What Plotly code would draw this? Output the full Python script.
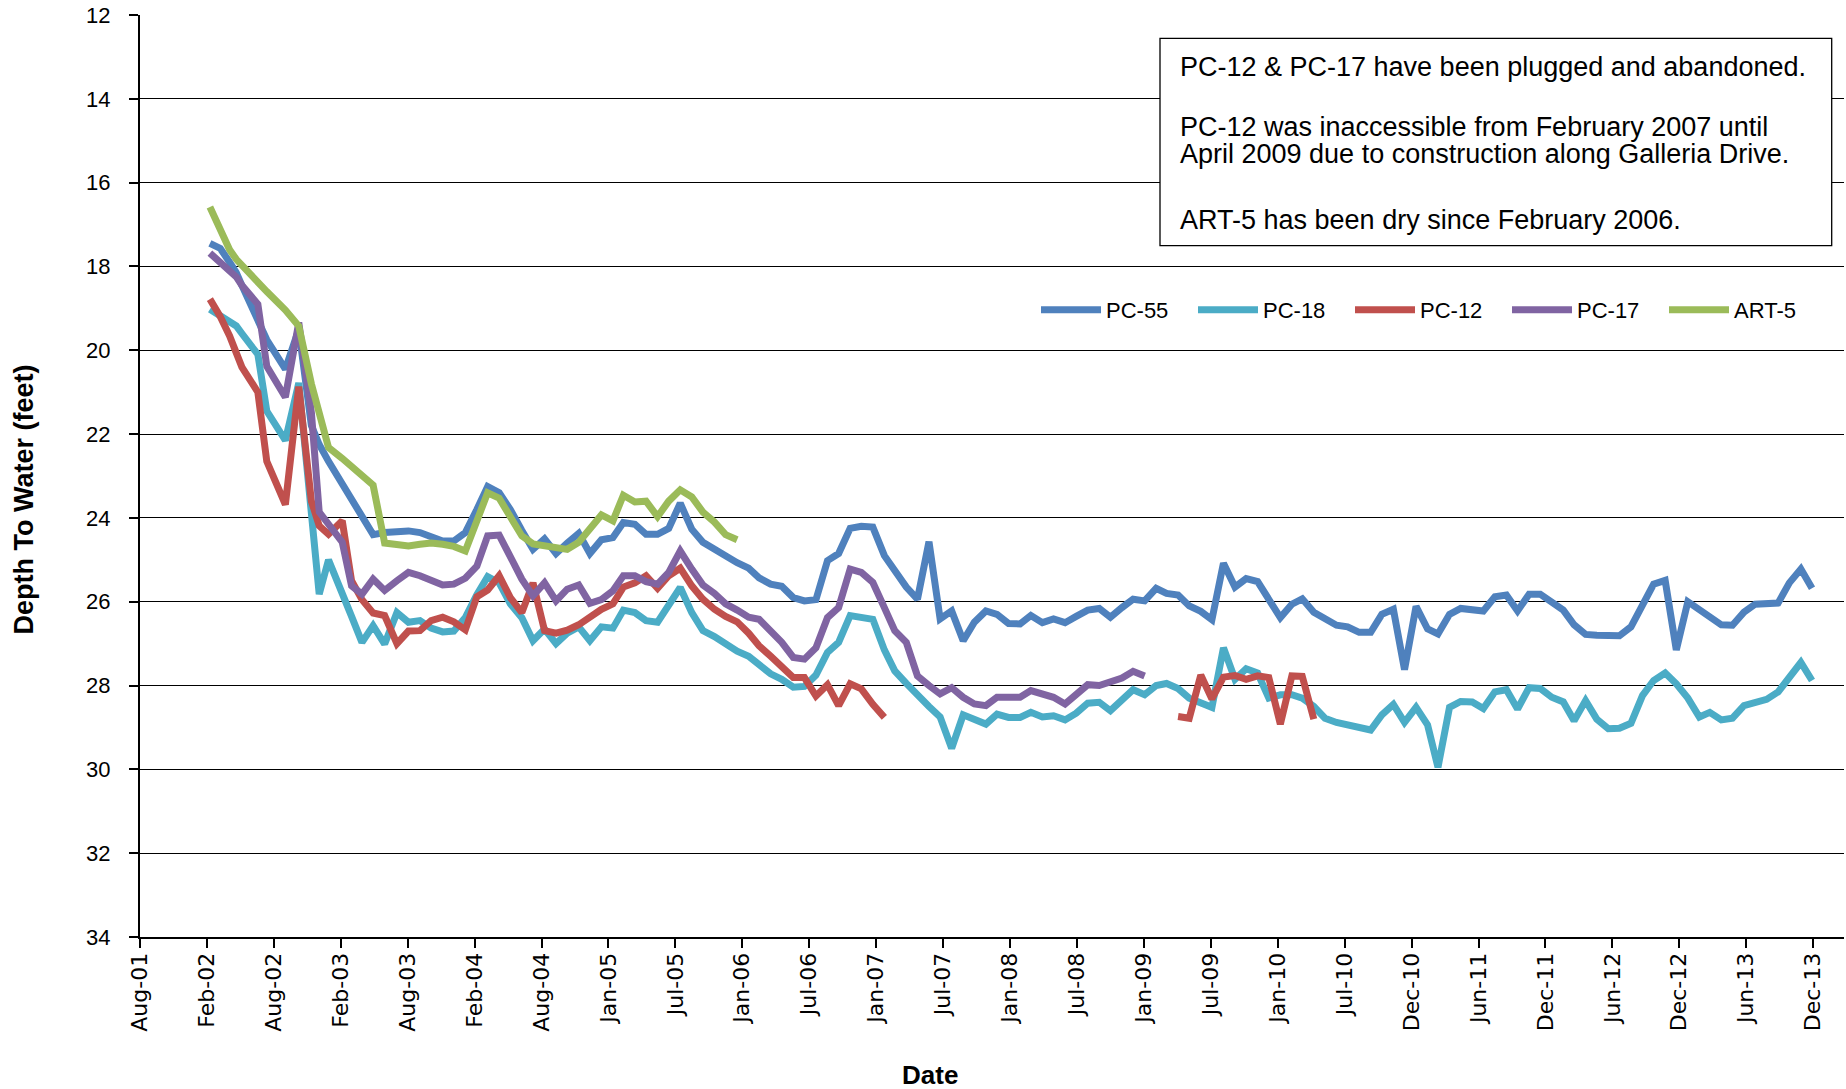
import pandas as pd
import plotly.graph_objects as go

# ---------------- data ----------------
EARLY_DATES = ["2002-02-22", "2002-03-22", "2002-04-16", "2002-05-04", "2002-05-19",
               "2002-07-01", "2002-07-25", "2002-09-13", "2002-10-19", "2002-11-22",
               "2002-12-13", "2003-01-07", "2003-02-13", "2003-03-10", "2003-04-07",
               "2003-05-07", "2003-06-07"]
MONTHLY_START = "2003-07-10"
MONTHLY_END = "2013-12-10"

N = None

PC55_EARLY = [17.45, 17.57, 17.9, 18.15, 18.45, 19.3, 19.75, 20.45, 19.5, 21.8,
              22.25, 22.65, 23.2, 23.6, 24.0, 24.4, 24.35]
PC55_MONTHLY = [
    24.33, 24.31, 24.35, 24.45, 24.55, 24.55,                                      # 2003 Jul-Dec
    24.35, 23.8, 23.25, 23.4, 23.8, 24.3, 24.75, 24.5, 24.85, 24.6, 24.37, 24.85,  # 2004
    24.52, 24.47, 24.11, 24.15, 24.39, 24.39, 24.25, 23.65, 24.27, 24.58, 24.75, 24.9,  # 2005
    25.07, 25.2, 25.43, 25.58, 25.63, 25.9, 25.98, 25.95, 25.02, 24.85, 24.25, 24.2,  # 2006
    24.22, 24.9, 25.28, 25.65, 25.94, 24.57, 26.41, 26.22, 26.93, 26.49, 26.22, 26.3,  # 2007
    26.52, 26.53, 26.33, 26.5, 26.41, 26.5, 26.35, 26.2, 26.16, 26.37, 26.14, 25.94,  # 2008
    25.98, 25.68, 25.8, 25.84, 26.1, 26.23, 26.43, 25.08, 25.65, 25.45, 25.52, 25.94,  # 2009
    26.38, 26.06, 25.93, 26.25, 26.42, 26.56, 26.6, 26.73, 26.73, 26.3, 26.18, 27.62,  # 2010
    26.11, 26.65, 26.77, 26.3, 26.16, 26.18, 26.22, 25.88, 25.84, 26.22, 25.82, 25.82,  # 2011
    26.0, 26.2, 26.55, 26.78, 26.8, 26.8, 26.81, 26.6, 26.1, 25.58, 25.49, 27.15,  # 2012
    26.0, 26.2, 26.36, 26.55, 26.56, 26.25, 26.06, 26.04, 26.03, 25.55, 25.22, 25.68,  # 2013
]

PC18_EARLY = [19.02, 19.18, 19.3, 19.42, 19.6, 20.1, 21.45, 22.15, 20.78, 23.97,
              25.82, 25.0, 25.76, 26.35, 26.97, 26.57, 27.01]
PC18_MONTHLY = [
    26.26, 26.49, 26.45, 26.63, 26.72, 26.7,
    26.38, 25.83, 25.4, 25.55, 26.05, 26.38, 26.93, 26.65, 27.0, 26.75, 26.6, 26.93,
    26.6, 26.63, 26.2, 26.26, 26.45, 26.49, 26.1, 25.66, 26.26, 26.69, 26.83, 27.0,
    27.18, 27.3, 27.5, 27.72, 27.85, 28.04, 28.02, 27.75, 27.21, 26.97, 26.33, 26.38,
    26.42, 27.15, 27.65, 27.95, 28.25, 28.5, 28.75, 29.5, 28.7, 28.8, 28.92, 28.68,
    28.76, 28.76, 28.64, 28.75, 28.72, 28.82, 28.66, 28.42, 28.4, 28.6, 28.35, 28.1,
    28.22, 28.0, 27.95, 28.07, 28.3, 28.42, 28.52, 27.1, 27.85, 27.6, 27.7, 28.3,
    28.22, 28.22, 28.3, 28.5, 28.78, 28.88, 28.93, 28.98, 29.06, 28.7, 28.45, 28.88,
    28.52, 28.94, 29.95, 28.52, 28.38, 28.39, 28.55, 28.15, 28.1, 28.56, 28.05, 28.07,
    28.28, 28.39, 28.84, 28.36, 28.8, 29.03, 29.02, 28.9, 28.24, 27.88, 27.7, 27.96,
    28.3, 28.75, 28.64, 28.82, 28.78, 28.48, 28.42, 28.33, 28.15, 27.8, 27.45, 27.88,
]

PC12_EARLY = [18.78, 19.2, 19.66, 20.05, 20.4, 21.0, 22.65, 23.68, 20.87, 23.6,
              24.19, 24.39, 24.07, 25.5, 25.95, 26.27, 26.33]
PC12_MONTHLY = [
    27.0, 26.7, 26.69, 26.45, 26.37, 26.48,
    26.67, 25.88, 25.72, 25.38, 25.9, 26.26, 25.55, 26.69, 26.75, 26.68, 26.55, 26.35,
    26.18, 26.05, 25.65, 25.55, 25.38, 25.68, 25.38, 25.2, 25.62, 25.94, 26.18, 26.35,
    26.48, 26.75, 27.05, 27.3, 27.53, 27.81, 27.81, 28.25, 27.98, 28.48, 27.96, 28.08,
    28.45, 28.76, N, N, N, N, N, N, N, N, N, N,
    N, N, N, N, N, N, N, N, N, N, N, N,
    N, N, N, 28.74, 28.78, 27.75, 28.32, 27.8, 27.76, 27.85, 27.77, 27.81,
    28.92, 27.77, 27.78, 28.8, N, N, N, N, N, N, N, N,
    N, N, N, N, N, N, N, N, N, N, N, N,
    N, N, N, N, N, N, N, N, N, N, N, N,
    N, N, N, N, N, N, N, N, N, N, N, N,
]

PC17_EARLY = [17.68, 17.9, 18.07, 18.25, 18.45, 18.9, 20.38, 21.12, 19.34, 21.49,
              23.86, 24.13, 24.58, 25.62, 25.82, 25.46, 25.73]
PC17_MONTHLY = [
    25.5, 25.3, 25.38, 25.5, 25.6, 25.58,
    25.44, 25.15, 24.43, 24.41, 24.95, 25.46, 25.86, 25.55, 25.98, 25.7, 25.6, 26.04,
    25.95, 25.74, 25.38, 25.38, 25.52, 25.58, 25.3, 24.79, 25.22, 25.6, 25.8, 26.05,
    26.2, 26.37, 26.42, 26.7, 26.97, 27.33, 27.37, 27.1, 26.38, 26.14, 25.22, 25.3,
    25.54, 26.14, 26.69, 26.97, 27.77, 28.0, 28.2, 28.05, 28.28, 28.44, 28.48, 28.28,
    28.28, 28.28, 28.12, 28.22, 28.28, 28.44, 28.2, 27.98, 28.0, 27.92, 27.82, 27.66,
    27.77, N, N, N, N, N, N, N, N, N, N, N,
    N, N, N, N, N, N, N, N, N, N, N, N,
    N, N, N, N, N, N, N, N, N, N, N, N,
    N, N, N, N, N, N, N, N, N, N, N, N,
    N, N, N, N, N, N, N, N, N, N, N, N,
]

ART5_EARLY = [16.58, 17.11, 17.6, 17.83, 17.98, 18.37, 18.6, 19.04, 19.42, 20.8,
              21.54, 22.32, 22.58, 22.78, 22.99, 23.22, 24.6]
ART5_MONTHLY = [
    24.62, 24.67, 24.63, 24.6, 24.63, 24.68,
    24.79, 24.1, 23.4, 23.53, 24.0, 24.43, 24.62, 24.66, 24.7, 24.75, 24.58, 24.25,
    23.93, 24.07, 23.46, 23.62, 23.6, 23.97, 23.6, 23.33, 23.5, 23.86, 24.1, 24.4,
    24.52, N, N, N, N, N, N, N, N, N, N, N,
    N, N, N, N, N, N, N, N, N, N, N, N,
    N, N, N, N, N, N, N, N, N, N, N, N,
    N, N, N, N, N, N, N, N, N, N, N, N,
    N, N, N, N, N, N, N, N, N, N, N, N,
    N, N, N, N, N, N, N, N, N, N, N, N,
    N, N, N, N, N, N, N, N, N, N, N, N,
    N, N, N, N, N, N, N, N, N, N, N, N,
]

SERIES_NAMES = ["PC-55", "PC-18", "PC-12", "PC-17", "ART-5"]
SERIES_COLORS = ["#4F81BD", "#4BACC6", "#C0504D", "#8064A2", "#9BBB59"]

X_TICK_LABELS = ["Aug-01", "Feb-02", "Aug-02", "Feb-03", "Aug-03", "Feb-04", "Aug-04",
                 "Jan-05", "Jul-05", "Jan-06", "Jul-06", "Jan-07", "Jul-07", "Jan-08",
                 "Jul-08", "Jan-09", "Jul-09", "Jan-10", "Jul-10", "Dec-10", "Jun-11",
                 "Dec-11", "Jun-12", "Dec-12", "Jun-13", "Dec-13"]
X_AXIS_START = "2001-08-18"
X_AXIS_END = "2014-03-06"
X_TICK_STEP_DAYS = 180
Y_TICKS = [12, 14, 16, 18, 20, 22, 24, 26, 28, 30, 32, 34]

NOTE_LINES = ["PC-12 & PC-17 have been plugged and abandoned.",
              "PC-12 was inaccessible from February 2007 until",
              "April 2009 due to construction along Galleria Drive.",
              "ART-5 has been dry since February 2006."]

# ---------------- build ----------------
monthly = pd.date_range(MONTHLY_START, MONTHLY_END, freq=pd.DateOffset(months=1))
dates = list(pd.to_datetime(EARLY_DATES)) + list(monthly)

series_vals = [PC55_EARLY + PC55_MONTHLY, PC18_EARLY + PC18_MONTHLY,
               PC12_EARLY + PC12_MONTHLY, PC17_EARLY + PC17_MONTHLY,
               ART5_EARLY + ART5_MONTHLY]

FONT = "Liberation Sans, Arial, sans-serif"

fig = go.Figure()
for name, color, vals in zip(SERIES_NAMES, SERIES_COLORS, series_vals):
    assert len(vals) == len(dates), (name, len(vals), len(dates))
    fig.add_trace(go.Scatter(x=dates, y=vals, name=name, mode="lines",
                             line=dict(color=color, width=7),
                             connectgaps=False))

start = pd.Timestamp(X_AXIS_START)
tickvals = [start + pd.Timedelta(days=X_TICK_STEP_DAYS * k) for k in range(len(X_TICK_LABELS))]

W, H = 1846, 1089
L, R, T, B = 140, 2, 15, 152
plot_w = W - L - R
plot_h = H - T - B


def px_x(x):
    return (x - L) / plot_w


def px_y(y):
    return 1 - (y - T) / plot_h


fig.update_layout(
    width=W, height=H,
    margin=dict(l=L, r=R, t=T, b=B, pad=0, autoexpand=False),
    paper_bgcolor="white", plot_bgcolor="white",
    font=dict(family=FONT, color="black"),
    showlegend=True,
    legend=dict(orientation="h", x=px_x(1036), xanchor="left", y=px_y(310), yanchor="middle",
                font=dict(family=FONT, size=22, color="black"),
                bgcolor="rgba(0,0,0,0)", entrywidth=82, entrywidthmode="pixels",
                itemwidth=60, tracegroupgap=0),
)

fig.update_xaxes(
    type="date", range=[start, pd.Timestamp(X_AXIS_END)],
    tickmode="array", tickvals=tickvals, ticktext=X_TICK_LABELS,
    tickangle=-90, tickfont=dict(family="DejaVu Sans, sans-serif", size=22, color="black"),
    ticks="outside", ticklen=9, tickwidth=1.5, tickcolor="black",
    showline=True, linecolor="black", linewidth=2, showgrid=False, zeroline=False,
    ticklabelstandoff=-4,
)
fig.update_yaxes(
    range=[34, 12], tickmode="array", tickvals=Y_TICKS,
    tickfont=dict(family=FONT, size=22, color="black"),
    ticks="outside", ticklen=9, tickwidth=1.5, tickcolor="black",
    showline=True, linecolor="black", linewidth=2,
    showgrid=True, gridcolor="black", gridwidth=1.4, zeroline=False,
    ticklabelstandoff=14,
)

# note box
fig.add_shape(type="rect", xref="paper", yref="paper",
              x0=px_x(1160), x1=px_x(1831.7), y0=px_y(245.7), y1=px_y(38.3),
              fillcolor="white", line=dict(color="black", width=1.3), layer="above")
note_y = [67, 127, 153.7, 219.7]
for txt, yy in zip(NOTE_LINES, note_y):
    fig.add_annotation(text=txt, xref="paper", yref="paper", x=px_x(1178), y=px_y(yy),
                       xanchor="left", yanchor="middle", showarrow=False,
                       font=dict(family=FONT, size=27, color="black"))

# axis titles
fig.add_annotation(text="Depth To Water (feet)", xref="paper", yref="paper",
                   x=px_x(23.5), y=px_y(500), xanchor="center", yanchor="middle",
                   textangle=-90, showarrow=False,
                   font=dict(family=FONT, size=27, color="black", weight="bold"))
fig.add_annotation(text="Date", xref="paper", yref="paper",
                   x=px_x(930), y=px_y(1075), xanchor="center", yanchor="middle",
                   showarrow=False,
                   font=dict(family=FONT, size=26, color="black", weight="bold"))

fig.write_html("out.html", config={"displayModeBar": False},
               post_script="document.body.style.margin='0';document.body.style.overflow='hidden';")
